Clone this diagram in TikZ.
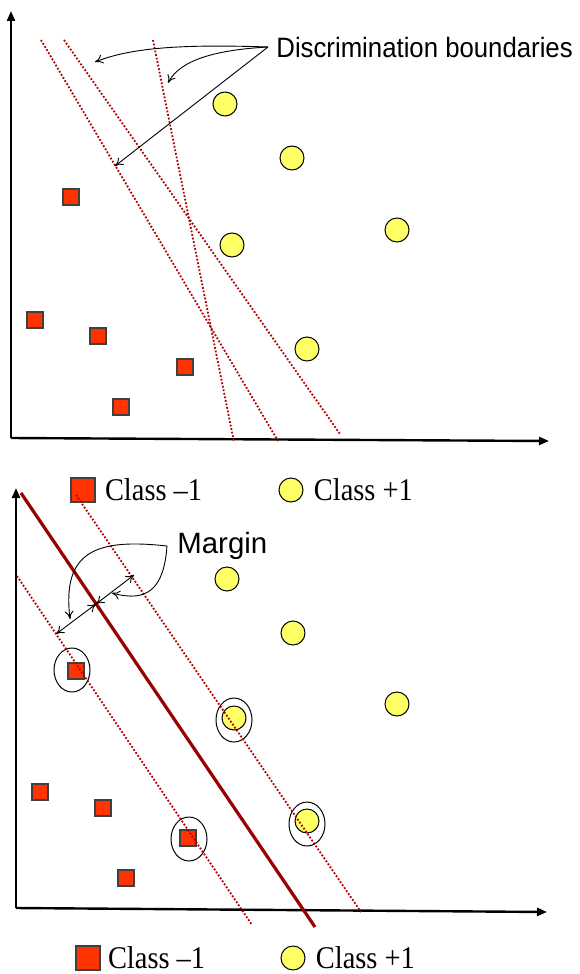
\documentclass[tikz,border=0pt]{standalone}
\usepackage{fontspec}
\setmainfont{Liberation Serif}
\setsansfont{Liberation Sans}
\newfontfamily\legfont[FakeStretch=0.9,Ligatures=TeX]{Liberation Serif}
\newfontfamily\notefont[FakeStretch=0.92,Ligatures=TeX]{Liberation Sans}
\usetikzlibrary{arrows.meta, positioning, shapes.geometric}
\definecolor{negred}{HTML}{FF3300}
\definecolor{posyellow}{HTML}{FFFF66}
\definecolor{bndred}{HTML}{B00000}
\definecolor{hypred}{HTML}{990000}
\tikzset{
  negpt/.style={rectangle,draw=black!75,fill=negred,line width=0.6pt,minimum size=8pt,inner sep=0pt},
  pospt/.style={circle,draw=black,fill=posyellow,line width=0.5pt,minimum size=12pt,inner sep=0pt},
  sv/.style={ellipse,draw,line width=0.5pt,minimum width=18pt,minimum height=22pt,inner sep=0pt},
  axis/.style={line width=1.2pt,-{Triangle[length=5pt,width=4pt]}},
  bound/.style={bndred,line width=0.9pt,dash pattern=on 0.9pt off 0.9pt},
  hyper/.style={hypred,line width=1.6pt},
  pointer/.style={line width=0.45pt,-{To[length=4pt,width=4.5pt]}},
  span/.style={line width=0.45pt,{To[length=4pt,width=4.5pt]}-{To[length=4pt,width=4.5pt]}},
  legtext/.style={font=\legfont\fontsize{15.8}{17}\selectfont,inner sep=0pt},
  note/.style={font=\notefont\fontsize{14}{16}\selectfont,inner sep=4pt,anchor=west},
  bignote/.style={note,inner sep=5pt,font=\sffamily\fontsize{14.7}{17}\selectfont}
}

\begin{document}
\begin{tikzpicture}[x=0.5pt,y=-0.5pt]
\useasboundingbox (0,0) rectangle (579,974);

% top panel: several possible boundaries
\coordinate (o1) at (11,438);
\coordinate (ya) at (11,11);
\coordinate (xa) at (549,441);
\draw[axis] (o1) -- (ya);
\draw[axis] (o1) -- (xa);

\node[negpt] (n1) at (71,197) {};
\node[negpt] (n2) at (35,320) {};
\node[negpt] (n3) at (98,336) {};
\node[negpt] (n4) at (185,367) {};
\node[negpt] (n5) at (121,407) {};
\node[pospt] (p1) at (225,104) {};
\node[pospt] (p2) at (292,158) {};
\node[pospt] (p3) at (397,230) {};
\node[pospt] (p4) at (232,245) {};
\node[pospt] (p5) at (307,349) {};

\coordinate (b1s) at (41,40);  \coordinate (b1e) at (278,441);
\coordinate (b2s) at (64,40);  \coordinate (b2e) at (340,434);
\coordinate (b3s) at (153,40); \coordinate (b3e) at (234,442);
\draw[bound] (b1s) -- (b1e);
\draw[bound] (b2s) -- (b2e);
\draw[bound] (b3s) -- (b3e);

\node[note] (disc) at (268,47) {Discrimination boundaries};
\coordinate (t1) at (95,62);
\coordinate (t2) at (168,83);
\coordinate (t3) at (115,166);
\draw[pointer] (disc.west) .. controls (180,44) and (130,48) .. (t1);
\draw[pointer] (disc.west) .. controls (215,50) and (180,60) .. (t2);
\draw[pointer] (disc.west) -- (t3);

% legend
\node[negpt, minimum size=12pt] (lsq1) at (83,490) {};
\node[legtext, right=4.5pt of lsq1] (lneg1) {Class --1};
\node[pospt] (lci1) at (291,490) {};
\node[legtext, right=5pt of lci1] (lpos1) {Class +1};

% bottom panel: maximum margin
\coordinate (o2) at (16,908);
\coordinate (yb) at (16,488);
\coordinate (xb) at (547,912);
\draw[axis] (o2) -- (yb);
\draw[axis] (o2) -- (xb);

\node[sv] (e1) at (72,670) {};
\node[sv] (e2) at (234,720) {};
\node[sv] (e3) at (307,824) {};
\node[sv] (e4) at (189,839) {};

\node[negpt] (m1) at (76,671) {};
\node[negpt] (m2) at (40,792) {};
\node[negpt] (m3) at (103,808) {};
\node[negpt] (m4) at (188,838) {};
\node[negpt] (m5) at (126,878) {};
\node[pospt] (q1) at (227,579) {};
\node[pospt] (q2) at (293,633) {};
\node[pospt] (q3) at (397,704) {};
\node[pospt] (q4) at (234,718) {};
\node[pospt] (q5) at (307,821) {};

\coordinate (hs) at (21,493);  \coordinate (he) at (315,927);
\coordinate (us) at (76,495);  \coordinate (ue) at (361,912);
\coordinate (ls) at (17,576);  \coordinate (le) at (252,925);
\draw[hyper] (hs) -- (he);
\draw[bound] (us) -- (ue);
\draw[bound] (ls) -- (le);

\coordinate (w1) at (56,634);
\coordinate (w2) at (96,604);
\coordinate (w3) at (134,575);
\draw[span] (w1) -- (w2);
\draw[span] (w2) -- (w3);

\node[bignote] (marg) at (167,546) {Margin};
\coordinate (k1) at (70,619);
\coordinate (k2) at (112,593);
\draw[pointer] (marg.west) .. controls (95,538) and (62,552) .. (k1);
\draw[pointer] (marg.west) .. controls (164,588) and (148,603) .. (k2);

% legend
\node[negpt, minimum size=12pt] (lsq2) at (88,958) {};
\node[legtext, right=3.5pt of lsq2] (lneg2) {Class --1};
\node[pospt] (lci2) at (293,958) {};
\node[legtext, right=5pt of lci2] (lpos2) {Class +1};
\end{tikzpicture}
\end{document}
